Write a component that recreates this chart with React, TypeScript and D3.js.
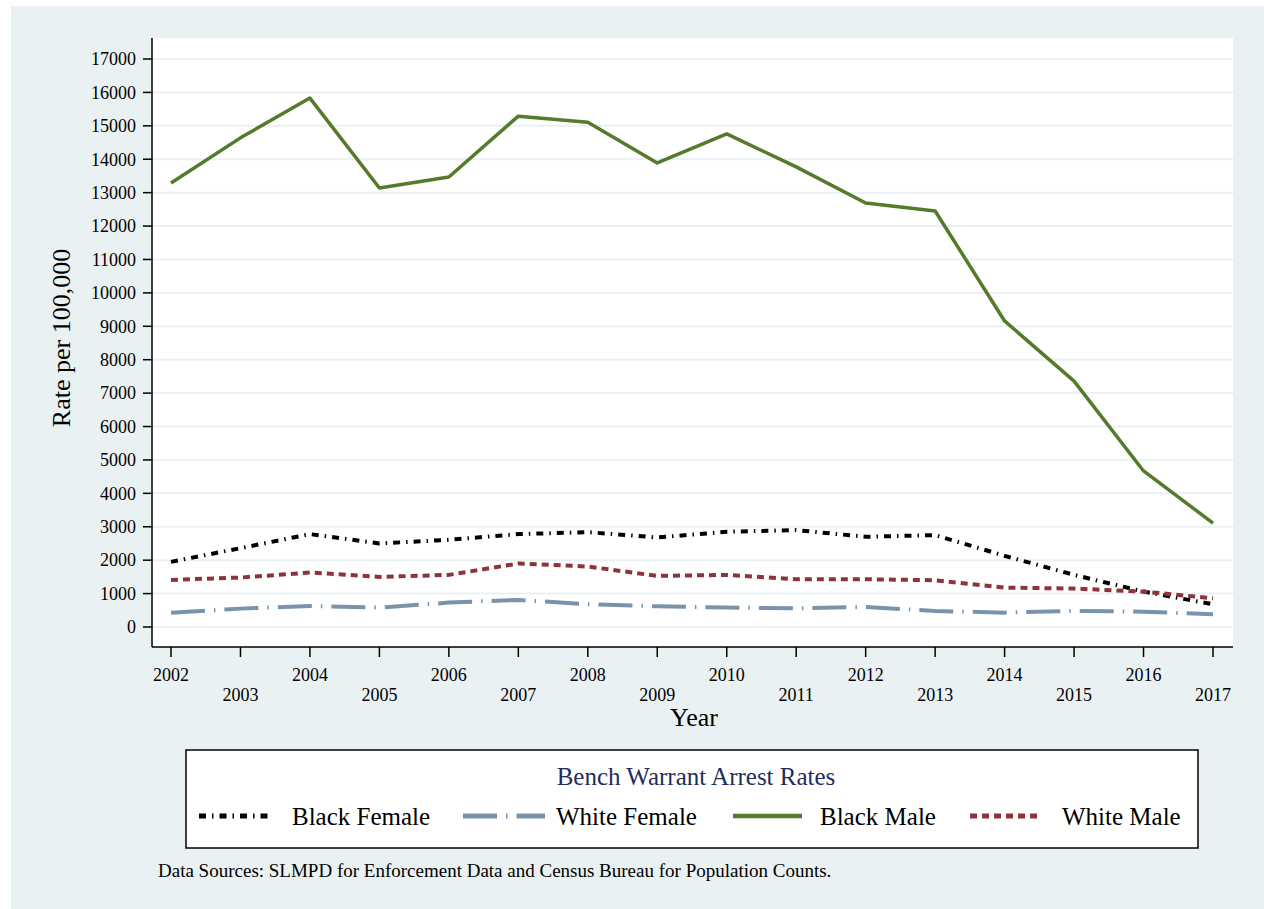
import React from 'react';
import * as d3 from 'd3';

const years = [2002, 2003, 2004, 2005, 2006, 2007, 2008, 2009, 2010, 2011, 2012, 2013, 2014, 2015, 2016, 2017];
const blackFemale = [1950, 2360, 2780, 2500, 2610, 2780, 2840, 2680, 2850, 2900, 2700, 2750, 2130, 1560, 1060, 680];
const whiteFemale = [430, 550, 630, 580, 730, 810, 680, 620, 580, 560, 600, 480, 430, 480, 460, 380];
const blackMale = [13290, 14640, 15830, 13140, 13470, 15290, 15110, 13890, 14760, 13770, 12690, 12450, 9160, 7360, 4670, 3110];
const whiteMale = [1410, 1480, 1630, 1500, 1560, 1900, 1810, 1530, 1560, 1430, 1430, 1400, 1180, 1150, 1060, 860];
const yTicks = d3.range(0, 17001, 1000);

const seriesNames = ['Black Female', 'White Female', 'Black Male', 'White Male'];

const FONT = '"Liberation Serif", "Times New Roman", serif';

const App = () => {
  const width = 1264;
  const height = 909;
  const plot = { left: 152, right: 1233, top: 38, bottom: 647 };

  const x = d3.scaleLinear().domain([2002, 2017]).range([171, 1213]);
  const y = d3.scaleLinear().domain([0, 17000]).range([627, 59]);

  const series = [
    { name: seriesNames[0], values: blackFemale, color: '#000000', dash: '7,6,1.5,6', width: 4 },
    { name: seriesNames[1], values: whiteFemale, color: '#7a93ad', dash: '34,9,1.5,9', width: 4 },
    { name: seriesNames[2], values: blackMale, color: '#557a2b', dash: null, width: 3.5 },
    { name: seriesNames[3], values: whiteMale, color: '#8e333b', dash: '7,5', width: 4 },
  ];

  const lineGen = d3.line<number>()
    .x((_, i) => x(years[i]))
    .y(d => y(d));

  const legendSamples = [
    { x0: 199, x1: 272, tx: 292 },
    { x0: 463, x1: 545, tx: 556 },
    { x0: 733, x1: 802, tx: 820 },
    { x0: 970, x1: 1042, tx: 1062 },
  ];

  return (
    <svg
      width={width}
      height={height}
      style={{ position: 'absolute', left: 0, top: 0, display: 'block' }}
      fontFamily={FONT}
    >
      <rect x={0} y={0} width={width} height={height} fill="#ffffff" />
      <rect x={11} y={6} width={width - 11} height={height - 6} fill="#eaf1f3" />
      <rect x={plot.left} y={plot.top} width={plot.right - plot.left} height={plot.bottom - plot.top} fill="#ffffff" />

      {/* grid */}
      {yTicks.map(t => (
        <line key={'g' + t} x1={plot.left} x2={plot.right} y1={y(t)} y2={y(t)} stroke="#eaf1f3" strokeWidth={2} />
      ))}

      {/* series */}
      {series.map(s => (
        <path
          key={s.name}
          d={lineGen(s.values) || ''}
          fill="none"
          stroke={s.color}
          strokeWidth={s.width}
          strokeDasharray={s.dash || undefined}
          strokeLinejoin="round"
        />
      ))}

      {/* y axis */}
      <line x1={plot.left} x2={plot.left} y1={plot.top} y2={plot.bottom} stroke="#000" strokeWidth={1.5} />
      {yTicks.map(t => (
        <g key={'y' + t}>
          <line x1={plot.left - 9} x2={plot.left} y1={y(t)} y2={y(t)} stroke="#000" strokeWidth={1.5} />
          <text x={plot.left - 16} y={y(t)} dy="0.35em" textAnchor="end" fontSize={18}>{t}</text>
        </g>
      ))}
      <text
        transform={`translate(70,338) rotate(-90)`}
        textAnchor="middle"
        fontSize={26}
      >Rate per 100,000</text>

      {/* x axis */}
      <line x1={plot.left} x2={plot.right} y1={plot.bottom} y2={plot.bottom} stroke="#000" strokeWidth={1.5} />
      {years.map((yr, i) => (
        <g key={'x' + yr}>
          <line x1={x(yr)} x2={x(yr)} y1={plot.bottom} y2={plot.bottom + 10} stroke="#000" strokeWidth={1.5} />
          <text x={x(yr)} y={i % 2 === 0 ? 681 : 701} textAnchor="middle" fontSize={18}>{yr}</text>
        </g>
      ))}
      <text x={694} y={726} textAnchor="middle" fontSize={26}>Year</text>

      {/* legend */}
      <rect x={186} y={750} width={1012} height={98} fill="#ffffff" stroke="#000" strokeWidth={1.5} />
      <text x={696} y={785} textAnchor="middle" fontSize={25} fill="#1f2d5c">Bench Warrant Arrest Rates</text>
      {series.map((s, i) => (
        <g key={'l' + s.name}>
          <line
            x1={legendSamples[i].x0}
            x2={legendSamples[i].x1}
            y1={816}
            y2={816}
            stroke={s.color}
            strokeWidth={s.width + 1}
            strokeDasharray={s.dash || undefined}
          />
          <text x={legendSamples[i].tx} y={825} fontSize={25}>{s.name}</text>
        </g>
      ))}

      <text x={158} y={877} fontSize={19}>Data Sources: SLMPD for Enforcement Data and Census Bureau for Population Counts.</text>
    </svg>
  );
};

export default App;
